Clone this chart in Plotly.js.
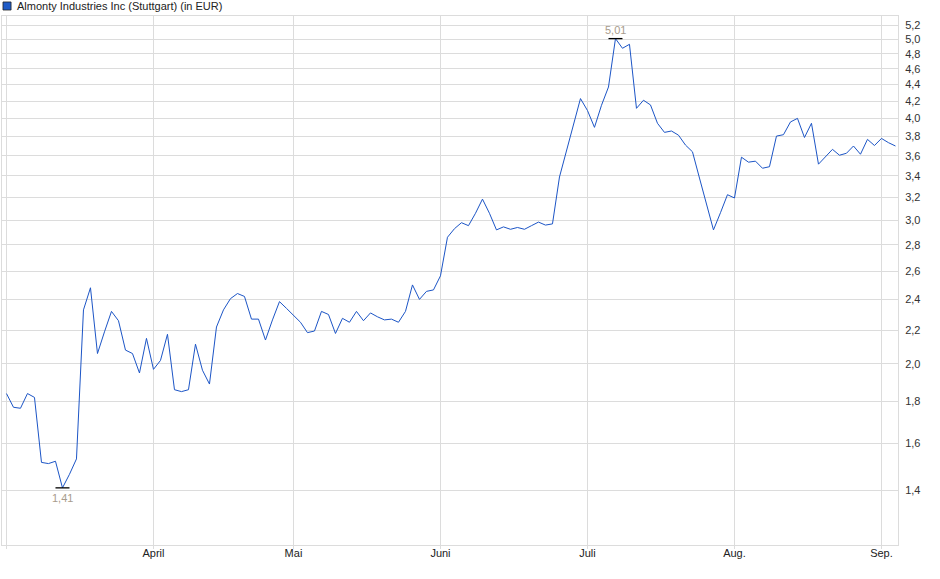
<!DOCTYPE html>
<html>
<head>
<meta charset="utf-8">
<script src="https://cdn.plot.ly/plotly-3.0.1.min.js"></script>
<style>
  html, body { margin: 0; padding: 0; background: #fff; }
  #chart { width: 940px; height: 579px; }
</style>
</head>
<body>
<div id="chart"></div>
<script>
// daily closing prices, one per trading day (Mar - Sep)
const prices = [
  1.84, 1.77, 1.765, 1.84, 1.82, 1.515, 1.51, 1.52, 1.41, 1.465,
  1.53, 2.33, 2.48, 2.06, 2.19, 2.32, 2.26, 2.08, 2.06, 1.95,
  2.15, 1.97, 2.02, 2.175, 1.86, 1.85, 1.86, 2.115, 1.965, 1.89,
  2.22, 2.33, 2.405, 2.44, 2.42, 2.27, 2.27, 2.14, 2.265, 2.385,
  2.34, 2.295, 2.25, 2.185, 2.195, 2.32, 2.30, 2.18, 2.275, 2.25,
  2.32, 2.26, 2.31, 2.285, 2.265, 2.27, 2.25, 2.32, 2.50, 2.40,
  2.455, 2.465, 2.565, 2.86, 2.93, 2.98, 2.955, 3.06, 3.185, 3.06,
  2.92, 2.945, 2.925, 2.94, 2.925, 2.955, 2.985, 2.96, 2.97, 3.39,
  3.65, 3.935, 4.23, 4.09, 3.90, 4.15, 4.37, 5.01, 4.875, 4.93,
  4.115, 4.21, 4.155, 3.945, 3.845, 3.86, 3.815, 3.71, 3.64, 3.38,
  3.13, 2.92, 3.065, 3.225, 3.195, 3.585, 3.535, 3.545, 3.475, 3.49,
  3.805, 3.82, 3.96, 4.00, 3.79, 3.945, 3.515, 3.585, 3.665, 3.605,
  3.625, 3.70, 3.615, 3.77, 3.705, 3.78, 3.735, 3.70
];

// month starts (index of first trading day) and their labels
const monthIdx = [0, 21, 41, 62, 83, 104, 125];
const monthLabels = ['', 'April', 'Mai', 'Juni', 'Juli', 'Aug.', 'Sep.'];

const yTicks = [1.4, 1.6, 1.8, 2.0, 2.2, 2.4, 2.6, 2.8, 3.0, 3.2, 3.4, 3.6, 3.8, 4.0, 4.2, 4.4, 4.6, 4.8, 5.0, 5.2];

const seriesName = 'Almonty Industries Inc (Stuttgart) (in EUR)';

const xs = prices.map((p, i) => i);

// low and high of the period
const lo = Math.min(...prices);
const hi = Math.max(...prices);
const loIdx = prices.indexOf(lo);
const hiIdx = prices.indexOf(hi);
const fmt = v => v.toFixed(2).replace('.', ',');

const grid = '#dcdcdc';
const blue = '#1c55c6';
const markFont = { family: 'Liberation Sans, Arial, sans-serif', size: 11, color: '#a89c8c' };

const traces = [
  {
    x: xs,
    y: prices,
    type: 'scatter',
    mode: 'lines',
    line: { color: blue, width: 1 },
    hoverinfo: 'skip'
  },
  {
    x: [loIdx, hiIdx],
    y: [lo, hi],
    type: 'scatter',
    mode: 'markers',
    marker: { symbol: 'line-ew', size: 10, line: { width: 1.3, color: '#000' } },
    cliponaxis: false
  }
];

const layout = {
  width: 940,
  height: 579,
  margin: { l: 2, r: 42, t: 16, b: 34 },
  paper_bgcolor: '#fff',
  plot_bgcolor: '#fff',
  showlegend: false,
  separators: ',.',
  font: { family: 'Liberation Sans, Arial, sans-serif', size: 11, color: '#222' },
  xaxis: {
    range: [-0.64, 127.36],
    tickmode: 'array',
    tickvals: monthIdx,
    ticktext: monthLabels,
    showgrid: true,
    gridcolor: grid,
    gridwidth: 1,
    zeroline: false,
    showline: true,
    linecolor: grid,
    mirror: true,
    ticks: 'outside',
    ticklen: 3,
    tickcolor: grid,
    ticklabelstandoff: -5,
    tickfont: { size: 11, color: '#222' }
  },
  yaxis: {
    type: 'log',
    side: 'right',
    range: [Math.log10(1.2), Math.log10(5.34)],
    tickmode: 'array',
    tickvals: yTicks,
    ticktext: yTicks.map(v => v.toFixed(1).replace('.', ',')),
    showgrid: true,
    gridcolor: grid,
    gridwidth: 1,
    zeroline: false,
    showline: true,
    linecolor: grid,
    mirror: true,
    ticks: '',
    ticklabelstandoff: 4,
    tickfont: { size: 11, color: '#333' }
  },
  shapes: [
    {
      type: 'rect',
      xref: 'paper', yref: 'paper',
      x0: 0.0011, x1: 0.0101, y0: 1.0113, y1: 1.0265,
      fillcolor: '#1f5bc7',
      line: { color: '#222', width: 0.8 }
    }
  ],
  annotations: [
    {
      xref: 'paper', yref: 'paper',
      x: 0.0145, y: 1.0189,
      xanchor: 'left', yanchor: 'middle',
      text: seriesName,
      showarrow: false,
      font: { size: 11, color: '#222' }
    },
    {
      x: loIdx, y: Math.log10(lo),
      xanchor: 'center', yanchor: 'middle',
      yshift: -10,
      text: fmt(lo),
      showarrow: false,
      font: markFont
    },
    {
      x: hiIdx, y: Math.log10(hi),
      xanchor: 'center', yanchor: 'middle',
      yshift: 9,
      text: fmt(hi),
      showarrow: false,
      font: markFont
    }
  ]
};

Plotly.newPlot('chart', traces, layout, { displayModeBar: false, staticPlot: true });
</script>
</body>
</html>
